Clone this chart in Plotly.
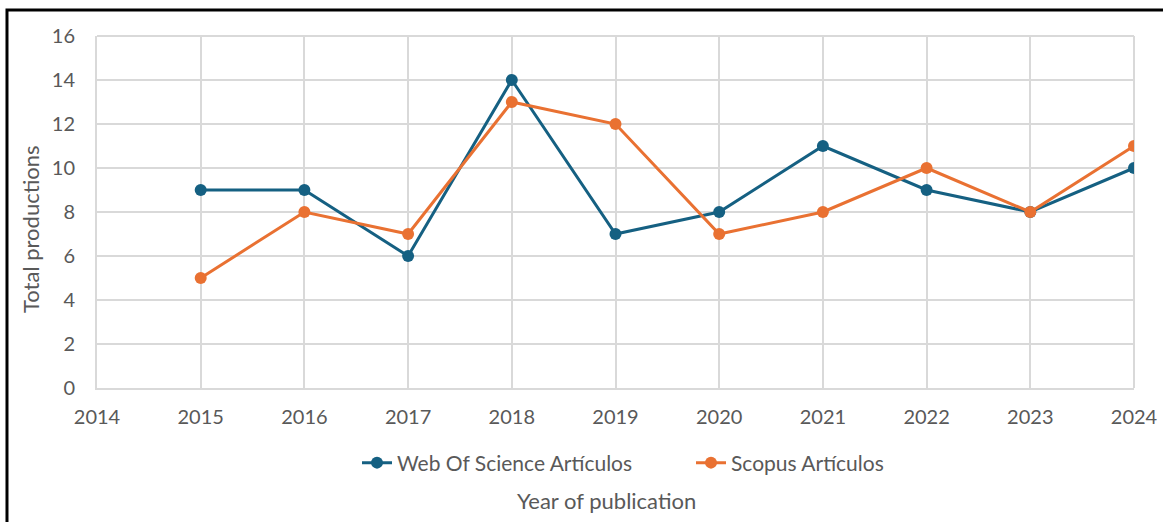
import plotly.graph_objects as go

years = [2015, 2016, 2017, 2018, 2019, 2020, 2021, 2022, 2023, 2024]
wos = [9, 9, 6, 14, 7, 8, 11, 9, 8, 10]
scopus = [5, 8, 7, 13, 12, 7, 8, 10, 8, 11]
x_ticks = list(range(2014, 2025))
y_ticks = list(range(0, 17, 2))

BLUE = "#156082"
ORANGE = "#E97132"
TXT = "#595959"
GRID = "#D9D9D9"
FONT = "Lato, 'Open Sans', sans-serif"

fig = go.Figure()
fig.add_trace(go.Scatter(x=years, y=wos, mode="lines+markers", name="Web Of Science Artículos",
                         line=dict(color=BLUE, width=3), marker=dict(size=12, color=BLUE),
                         legend="legend"))
fig.add_trace(go.Scatter(x=years, y=scopus, mode="lines+markers", name="Scopus Artículos",
                         line=dict(color=ORANGE, width=3), marker=dict(size=12, color=ORANGE),
                         legend="legend2"))

leg_common = dict(orientation="h", y=-0.213, yanchor="middle", xanchor="left",
                  font=dict(size=21, color=TXT), bgcolor="rgba(0,0,0,0)", borderwidth=0)

fig.update_layout(
    width=1163, height=522,
    margin=dict(l=97, r=29, t=36, b=134, autoexpand=False),
    paper_bgcolor="white", plot_bgcolor="white",
    font=dict(family=FONT, color=TXT, size=20),
    showlegend=True,
    legend=dict(x=(357 - 97) / 1037, **leg_common),
    legend2=dict(x=(691 - 97) / 1037, **leg_common),
    xaxis=dict(range=[2014, 2024], tickvals=x_ticks, ticktext=[str(v) for v in x_ticks],
               showgrid=True, gridcolor=GRID, gridwidth=2, zeroline=False,
               showline=True, linecolor=GRID, linewidth=2, mirror=False, automargin=False,
               ticks="outside", ticklen=10, tickcolor="rgba(0,0,0,0)",
               tickfont=dict(size=20, color=TXT)),
    yaxis=dict(range=[0, 16], tickvals=y_ticks, showgrid=True, gridcolor=GRID, gridwidth=2,
               zeroline=False, showline=True, linecolor=GRID, linewidth=2, automargin=False,
               ticks="outside", ticklen=16, tickcolor="rgba(0,0,0,0)",
               tickfont=dict(size=20, color=TXT)),
    annotations=[
        dict(text="Year of publication", xref="paper", yref="paper", x=0.5, y=0,
             xanchor="center", yanchor="middle", yshift=-112, xshift=-9, showarrow=False,
             font=dict(size=22, color=TXT)),
        dict(text="Total productions", xref="paper", yref="paper", x=0, y=0.5,
             xanchor="center", yanchor="middle", xshift=-67, yshift=-17, textangle=-90,
             showarrow=False, font=dict(size=22, color=TXT)),
    ],
    shapes=[
        dict(type="rect", xref="paper", yref="paper", x0=-0.0868, x1=1.2, y0=-0.6, y1=1.0739,
             line=dict(color="black", width=3), layer="above"),
        dict(type="line", xref="paper", yref="paper", x0=1, x1=1, y0=0, y1=1,
             line=dict(color=GRID, width=2), layer="below"),
        dict(type="line", xref="paper", yref="paper", x0=0, x1=1, y0=1, y1=1,
             line=dict(color=GRID, width=2), layer="below"),
    ],
)

fig.write_html("out.html")
